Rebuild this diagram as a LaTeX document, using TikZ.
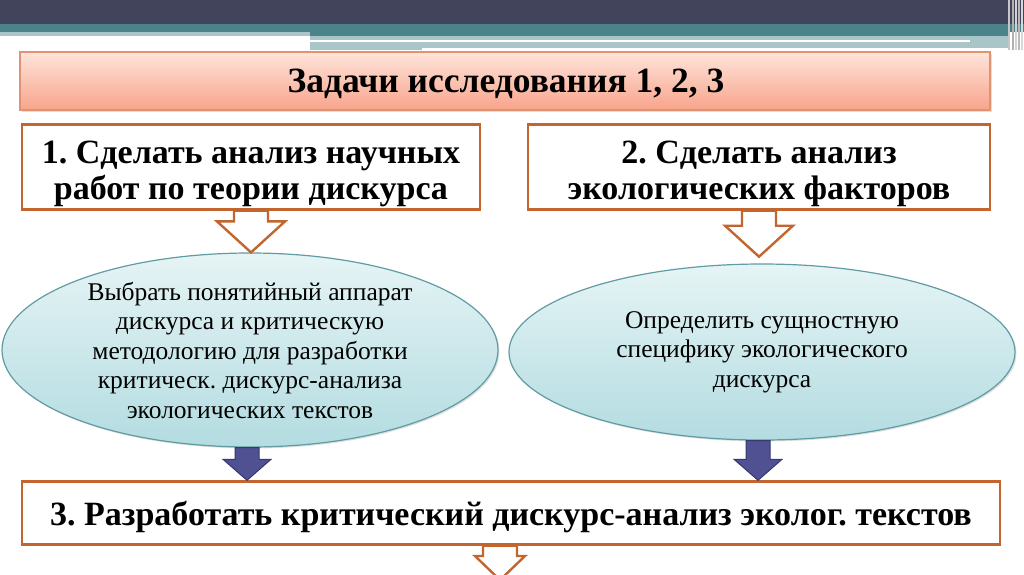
\documentclass[tikz,border=0pt]{standalone}
\usepackage{fontspec}
\setmainfont{Liberation Serif}
\usetikzlibrary{calc,shadows,shapes.geometric}
\frenchspacing

\definecolor{tmnyj}{HTML}{41445A}
\definecolor{biryuza}{HTML}{4A8389}
\definecolor{svetlobir}{HTML}{A9C5C7}
\definecolor{zagverh}{HTML}{FEE4DB}
\definecolor{zagniz}{HTML}{F8A48B}
\definecolor{zagkraj}{HTML}{DE9470}
\definecolor{ramka}{HTML}{C2652E}
\definecolor{ovalverh}{HTML}{E6F4F5}
\definecolor{ovalniz}{HTML}{B3DCE1}
\definecolor{ovalkraj}{HTML}{5F9CA3}
\definecolor{sinij}{HTML}{4F5192}
\definecolor{sinijkraj}{HTML}{373870}

% блочная стрелка: стиль, откуда, куда, пол-ствола, пол-головы, длина головы
\newcommand{\strelka}[6]{%
  \path[#1] let \p1=(#2), \p2=(#3) in
    (\x1-#4pt,\y1) -- (\x1-#4pt,\y2+#6pt) -- (\x1-#5pt,\y2+#6pt) -- (\x1,\y2)
    -- (\x1+#5pt,\y2+#6pt) -- (\x1+#4pt,\y2+#6pt) -- (\x1+#4pt,\y1) -- cycle;}

\begin{document}
\begin{tikzpicture}[x=1pt, y=-1pt,
    zag/.style={draw=zagkraj, line width=1.2pt, top color=zagverh, bottom color=zagniz,
      minimum width=970pt, minimum height=58pt,
      drop shadow={opacity=0.25, shadow xshift=1.5pt, shadow yshift=-1.5pt}},
    zagtekst/.style={inner sep=0pt, font=\fontsize{35.5}{40}\selectfont\bfseries},
    zadacha/.style={draw=ramka, line width=2.4pt, fill=white, minimum height=85pt},
    zadtekst/.style={align=center, inner sep=0pt, font=\fontsize{34}{36}\selectfont\bfseries},
    oval/.style={ellipse, draw=ovalkraj, line width=1.2pt, top color=ovalverh, bottom color=ovalniz,
      inner sep=0pt, drop shadow={opacity=0.25, shadow xshift=1.5pt, shadow yshift=-1.5pt}},
    ovaltekst/.style={align=center, inner sep=0pt, font=\fontsize{25.5}{29.5}\selectfont},
    pustaja/.style={draw=ramka, line width=2.4pt, fill=white, line join=miter},
    polnaja/.style={draw=sinijkraj, line width=1pt, fill=sinij}]
  \useasboundingbox (0,0) rectangle (1024,574);

  % шапка слайда
  \fill[tmnyj] (0,0) rectangle (1024,24);
  \fill[biryuza] (0,24) rectangle (1024,32);
  \fill[svetlobir] (0,32) rectangle (310,36);
  \fill[biryuza] (310,32) rectangle (1010,36);
  \fill[svetlobir] (310,36) rectangle (1010,50);
  \fill[white] (310,40) rectangle (970,42);
  \fill[white] (422,48) rectangle (1010,50);
  \foreach \x/\c in {1008/gray!45, 1012/gray!60, 1015/gray!35, 1018/gray!55, 1021/gray!30}
    \fill[\c] (\x,0) rectangle ++(2,50);

  % узлы
  \node[zag] (zad) at (505,81) {};
  \node[zagtekst] at ($(zad)+(1,3)$) {Задачи исследования 1, 2, 3};
  \node[zadacha, minimum width=458pt] (z1) at (251,167) {};
  \node[zadtekst] at ($(z1)+(0,7)$) {1. Сделать анализ научных\\работ по теории дискурса};
  \node[zadacha, minimum width=462pt] (z2) at (759,167) {};
  \node[zadtekst] at ($(z2)+(0,7)$) {2. Сделать анализ\\экологических факторов};
  \node[oval, minimum width=496pt, minimum height=194pt] (o1) at (250,350) {};
  \node[ovaltekst] (t1) at (o1)
    {Выбрать понятийный аппарат\\дискурса и критическую\\методологию для разработки\\критическ. дискурс-анализа\\экологических текстов};
  \node[oval, minimum width=506pt, minimum height=176pt] (o2) at (762,352) {};
  \node[ovaltekst] (t2) at (o2)
    {Определить сущностную\\специфику экологического\\дискурса};
  \node[zadacha, minimum width=978pt, minimum height=63pt] (z3) at (511,513) {};
  \node[zagtekst, font=\fontsize{34}{36}\selectfont\bfseries] at ($(z3)+(0,4)$)
    {3. Разработать критический дискурс-анализ эколог. текстов};
  \coordinate (niz) at (500,580);

  % стрелки
  \strelka{pustaja}{z1.south}{o1.north}{17}{34}{31}
  \strelka{pustaja}{z2.south}{$(z2.south)+(0,46)$}{17}{34}{31}
  \strelka{polnaja}{$(o1.south)+(-3,0)$}{z3.north}{12}{24}{21}
  \strelka{polnaja}{$(o2.south)+(-4,0)$}{z3.north}{12}{24}{21}
  \strelka{pustaja}{$(z3.south)+(-11,0)$}{niz}{17}{25}{24}
\end{tikzpicture}
\end{document}
